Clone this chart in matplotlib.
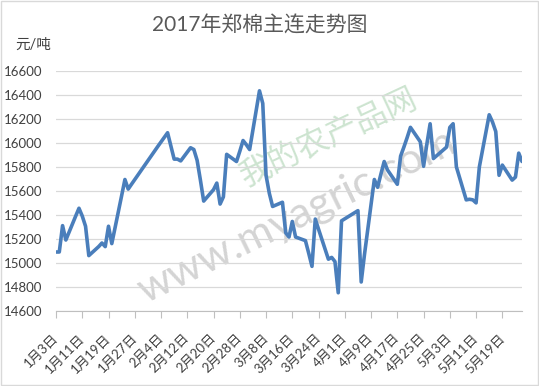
import pandas as pd
import matplotlib.pyplot as plt
from matplotlib.patches import Rectangle

plt.rcParams['font.family'] = ['Lato', 'Noto Sans CJK SC', 'DejaVu Sans']

# 郑棉主连 2017 收盘价 (元/吨)
dates = [
    "01-03", "01-04", "01-05", "01-06", "01-09", "01-10", "01-11", "01-12", "01-13",
    "01-16", "01-17", "01-18", "01-19", "01-20", "01-23", "01-24", "01-25", "01-26",
    "02-03", "02-06", "02-07", "02-08", "02-09", "02-10", "02-13", "02-14", "02-15", "02-16", "02-17",
    "02-20", "02-21", "02-22", "02-23", "02-24", "02-27", "02-28", "03-01", "03-02", "03-03",
    "03-06", "03-07", "03-08", "03-09", "03-10", "03-13", "03-14", "03-15", "03-16", "03-17",
    "03-20", "03-21", "03-22", "03-23", "03-24", "03-27", "03-28", "03-29", "03-30", "03-31",
    "04-05", "04-06", "04-07", "04-10", "04-11", "04-12", "04-13", "04-14",
    "04-17", "04-18", "04-19", "04-20", "04-21", "04-24", "04-25", "04-26", "04-27", "04-28",
    "05-02", "05-03", "05-04", "05-05", "05-08", "05-09", "05-10", "05-11", "05-12",
    "05-15", "05-16", "05-17", "05-18", "05-19", "05-22", "05-23", "05-24", "05-25",
]
prices = [
    15090, 15090, 15310, 15190, 15390, 15455, 15390, 15305, 15060,
    15135, 15165, 15135, 15305, 15160, 15560, 15695, 15615, 15655,
    15970, 16085, 15975, 15865, 15865, 15850, 15960, 15945, 15855, 15690, 15515,
    15610, 15665, 15490, 15550, 15905, 15845, 15930, 16020, 15985, 15945,
    16435, 16330, 15730, 15580, 15470, 15505, 15250, 15215, 15345, 15215,
    15185, 15080, 14970, 15365, 15280, 15030, 15045, 15010, 14750, 15350,
    15435, 14840, 15070, 15695, 15630, 15740, 15845, 15775,
    15655, 15890, 15965, 16045, 16130, 16010, 15805, 15990, 16160, 15870,
    15965, 16130, 16160, 15800, 15525, 15530, 15525, 15500, 15800,
    16235, 16175, 16095, 15730, 15815, 15690, 15715, 15915, 15845,
]
y_ticks = list(range(14600, 16601, 200))

x = pd.to_datetime(["2017-" + d for d in dates])
tick_dates = pd.date_range(x[0], x[-1], freq="8D")
tick_labels = [f"{d.month}月{d.day}日" for d in tick_dates]

fig = plt.figure(figsize=(5.39, 3.86), dpi=100)
fig.patches.append(Rectangle((0.002, 0.002), 0.996, 0.996, transform=fig.transFigure,
                             fill=False, edgecolor="#D9D9D9", lw=1))
ax = fig.add_axes([0.1039, 0.195, 0.8646, 0.621])

# watermark
ax.text(0.61, 0.645, "我的农产品网", transform=fig.transFigure, rotation=25,
        fontsize=23, color="#CDE4D0", ha="center", va="center", zorder=0)
ax.text(0.55, 0.44, "www.myagric.com", transform=fig.transFigure, rotation=26,
        fontsize=31, color="#D4D4D4", ha="center", va="center", zorder=0)

ax.plot(x, prices, color="#4A7EBB", lw=2.6, solid_joinstyle="round",
        solid_capstyle="round", zorder=3)

ax.set_xlim(x[0], x[-1])
ax.set_ylim(14600, 16600)
ax.set_yticks(y_ticks)
ax.set_xticks(tick_dates)
ax.set_xticklabels(tick_labels, rotation=45, ha="right", va="center",
                   rotation_mode="anchor", fontsize=9.5, color="#404040")
ax.tick_params(axis="y", length=0, pad=10, labelsize=9.5, labelcolor="#404040")
ax.tick_params(axis="x", length=5, color="#BFBFBF", direction="out", pad=13)
ax.grid(axis="y", color="#D9D9D9", lw=0.9)
ax.set_axisbelow(True)
for s in ["top", "right", "left"]:
    ax.spines[s].set_visible(False)
ax.spines["bottom"].set_color("#BFBFBF")
ax.patch.set_alpha(0)

fig.text(0.482, 1 - 26 / 386, "2017年郑棉主连走势图", ha="center", va="center",
         fontsize=15, color="#595959")
fig.text(15 / 539, 1 - 45 / 386, "元/吨", ha="left", va="center",
         fontsize=10.5, color="#404040")

fig.savefig("out.png", dpi=100)
